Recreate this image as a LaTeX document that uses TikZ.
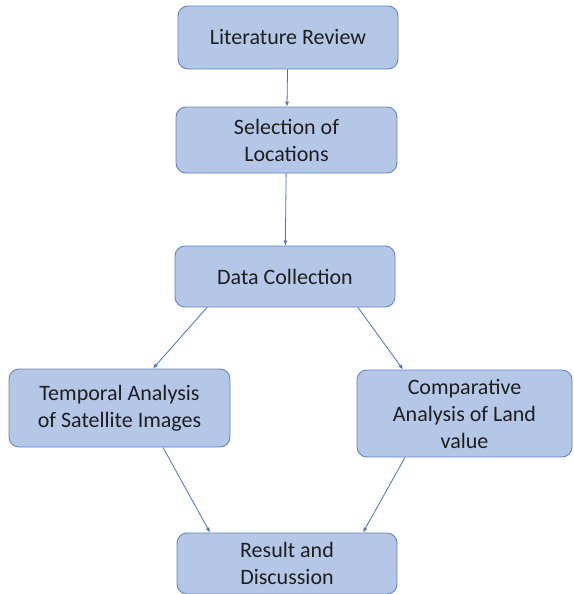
\documentclass[tikz,border=0pt]{standalone}
\usepackage{fontspec}
\setmainfont{Carlito}
\usetikzlibrary{arrows.meta}

\definecolor{boxfill}{RGB}{180,199,231}
\definecolor{boxline}{RGB}{100,132,190}
\definecolor{arrowblue}{RGB}{68,114,196}
\definecolor{textgray}{RGB}{30,30,30}

\tikzset{
  stagebox/.style={draw=boxline, line width=0.9pt, fill=boxfill, rounded corners=10pt,
    align=center, text=textgray, inner sep=0pt,
    font=\fontsize{22}{27}\selectfont},
  flowarrow/.style={draw=arrowblue, line width=0.8pt, -{Latex[length=5pt,width=4pt]}}
}

\begin{document}
\begin{tikzpicture}[x=1pt,y=1pt,yscale=-1,xscale=1]
\useasboundingbox (0,0) rectangle (573,594);

% Boxes
\node[stagebox, minimum width=220pt, minimum height=63pt] (lit) at (288,37.5) {Literature Review};
\node[stagebox, minimum width=221pt, minimum height=66pt] (sel) at (286.5,140) {Selection of\\Locations};
\node[stagebox, minimum width=220pt, minimum height=61pt] (data) at (285,276.5) {Data Collection};
\node[stagebox, minimum width=221pt, minimum height=78pt] (temp) at (119.5,408) {Temporal Analysis\\of Satellite Images};
\node[stagebox, minimum width=215pt, minimum height=87pt] (comp) at (464.5,413.5) {Comparative\\Analysis of Land\\value};
\node[stagebox, minimum width=220pt, minimum height=61pt] (res) at (287,563.5) {Result and\\Discussion};

% Arrows
\draw[flowarrow] (lit) -- (sel);
\draw[flowarrow] (sel) -- (data);
\draw[flowarrow] ([xshift=-78pt]data.south) -- ([xshift=33.5pt]temp.north);
\draw[flowarrow] ([xshift=73pt]data.south) -- ([xshift=-61.5pt]comp.north);
\draw[flowarrow] ([xshift=43.5pt]temp.south) -- ([xshift=-77pt]res.north);
\draw[flowarrow] ([xshift=-59.5pt]comp.south) -- ([xshift=76pt]res.north);

\end{tikzpicture}
\end{document}
